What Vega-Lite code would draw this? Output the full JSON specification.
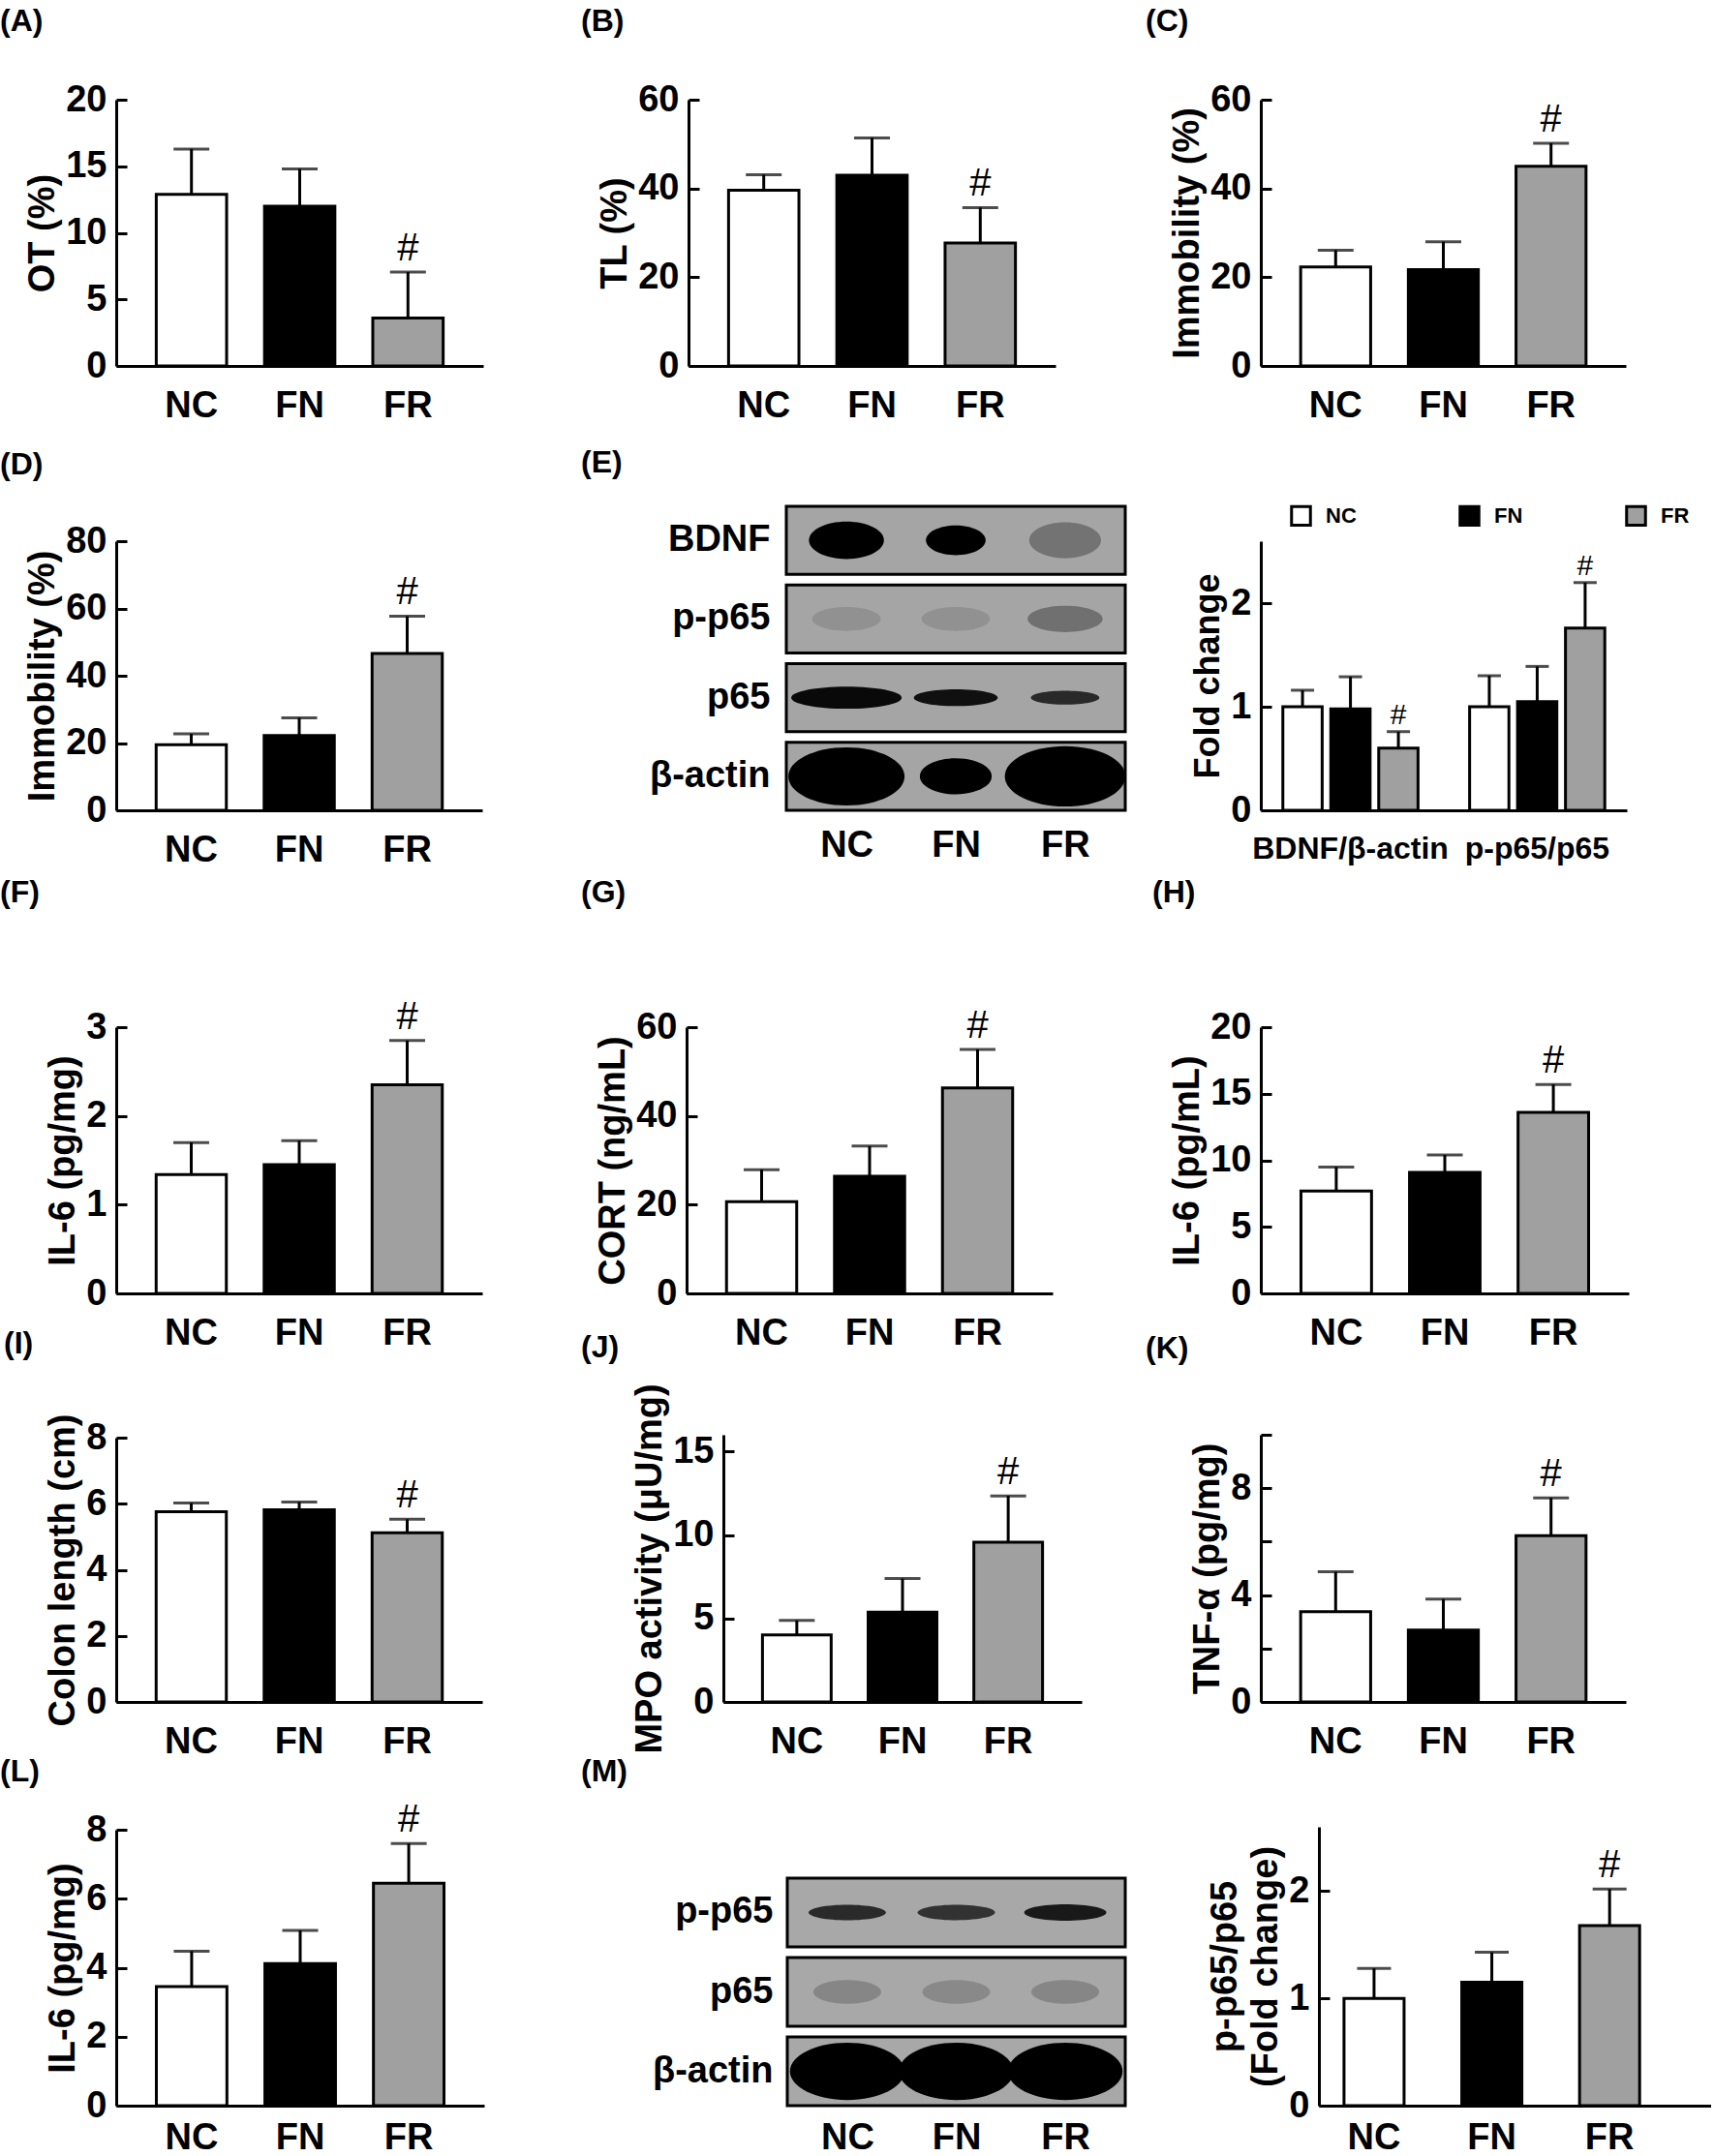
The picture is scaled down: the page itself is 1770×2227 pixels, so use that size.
{
  "$schema": "https://vega.github.io/schema/vega-lite/v6.json",
  "background": "white",
  "padding": {"top": 6, "left": 0, "right": 0, "bottom": 0},
  "columns": 3,
  "align": "each",
  "bounds": "flush",
  "spacing": {"row": 129, "column": 185},
  "resolve": {"scale": {"fill": "independent", "shape": "independent", "size": "independent", "opacity": "independent"}},
  "config": {
    "view": {"stroke": null},
    "font": "Liberation Sans",
    "axis": {"labelFont": "Liberation Sans", "labelFontWeight": "bold", "labelFontSize": 38, "labelColor": "black", "titleFont": "Liberation Sans", "titleFontWeight": "bold", "titleFontSize": 38, "titleColor": "black", "domainColor": "black", "domainWidth": 3, "tickColor": "black", "tickWidth": 3, "grid": false, "labelOverlap": false, "labelFlush": false},
    "axisY": {"tickSize": -11, "labelPadding": 21, "titlePadding": 4},
    "axisX": {"ticks": false, "labelAngle": 0, "labelPadding": 22},
    "title": {"font": "Liberation Sans", "fontWeight": "bold", "fontSize": 32, "color": "black", "anchor": "start", "frame": "group", "baseline": "bottom", "offset": 0},
    "scale": {"bandPaddingInner": 0.35, "bandPaddingOuter": 0.37},
    "bar": {"stroke": "black", "strokeWidth": 3},
    "rule": {"color": "black", "strokeWidth": 3},
    "tick": {"color": "black", "thickness": 3},
    "text": {"font": "Liberation Sans", "color": "black"}
  },
  "concat": [
    {
      "width": 404, "height": 275,
      "title": {"text": "(A)", "dx": -120, "dy": -41},
      "data": {"values": [{"g": "NC", "m": 12.9, "e": 16.3, "s": ""}, {"g": "FN", "m": 12.0, "e": 14.8, "s": ""}, {"g": "FR", "m": 3.6, "e": 7.05, "s": "#"}]},
      "encoding": {"x": {"field": "g", "type": "nominal", "sort": ["NC", "FN", "FR"], "title": null, "scale": {"range": [0, 379]}}},
      "layer": [
        {"mark": "bar", "encoding": {"y": {"field": "m", "type": "quantitative", "scale": {"domain": [0, 20]}, "axis": {"title": "OT (%)", "values": [0, 5, 10, 15, 20], "format": "d"}}, "fill": {"condition": [{"test": "datum.g==='NC'", "value": "white"}, {"test": "datum.g==='FN'", "value": "black"}], "value": "#a0a0a0"}}},
        {"mark": "rule", "encoding": {"y": {"field": "m", "type": "quantitative"}, "y2": {"field": "e"}}},
        {"mark": {"type": "tick", "size": 37}, "encoding": {"y": {"field": "e", "type": "quantitative"}}},
        {"mark": {"type": "text", "fontSize": 40, "baseline": "alphabetic", "dy": -12}, "encoding": {"y": {"field": "e", "type": "quantitative"}, "text": {"field": "s"}}}
      ]
    },
    {
      "width": 408, "height": 275,
      "title": {"text": "(B)", "dx": -109, "dy": -41},
      "data": {"values": [{"g": "NC", "m": 39.6, "e": 43.1, "s": ""}, {"g": "FN", "m": 43.0, "e": 51.4, "s": ""}, {"g": "FR", "m": 27.7, "e": 35.7, "s": "#"}]},
      "encoding": {"x": {"field": "g", "type": "nominal", "sort": ["NC", "FN", "FR"], "title": null, "scale": {"range": [2, 381]}}},
      "layer": [
        {"mark": "bar", "encoding": {"y": {"field": "m", "type": "quantitative", "scale": {"domain": [0, 60]}, "axis": {"title": "TL (%)", "values": [0, 20, 40, 60], "format": "d", "offset": -2}}, "fill": {"condition": [{"test": "datum.g==='NC'", "value": "white"}, {"test": "datum.g==='FN'", "value": "black"}], "value": "#a0a0a0"}}},
        {"mark": "rule", "encoding": {"y": {"field": "m", "type": "quantitative"}, "y2": {"field": "e"}}},
        {"mark": {"type": "tick", "size": 37}, "encoding": {"y": {"field": "e", "type": "quantitative"}}},
        {"mark": {"type": "text", "fontSize": 40, "baseline": "alphabetic", "dy": -12}, "encoding": {"y": {"field": "e", "type": "quantitative"}, "text": {"field": "s"}}}
      ]
    },
    {
      "width": 377, "height": 275,
      "title": {"text": "(C)", "dx": -119, "dy": -41},
      "data": {"values": [{"g": "NC", "m": 22.3, "e": 26.1, "s": ""}, {"g": "FN", "m": 21.7, "e": 28.0, "s": ""}, {"g": "FR", "m": 45.0, "e": 50.2, "s": "#"}]},
      "encoding": {"x": {"field": "g", "type": "nominal", "sort": ["NC", "FN", "FR"], "title": null}},
      "layer": [
        {"mark": "bar", "encoding": {"y": {"field": "m", "type": "quantitative", "scale": {"domain": [0, 60]}, "axis": {"title": "Immobility (%)", "values": [0, 20, 40, 60], "format": "d"}}, "fill": {"condition": [{"test": "datum.g==='NC'", "value": "white"}, {"test": "datum.g==='FN'", "value": "black"}], "value": "#a0a0a0"}}},
        {"mark": "rule", "encoding": {"y": {"field": "m", "type": "quantitative"}, "y2": {"field": "e"}}},
        {"mark": {"type": "tick", "size": 37}, "encoding": {"y": {"field": "e", "type": "quantitative"}}},
        {"mark": {"type": "text", "fontSize": 40, "baseline": "alphabetic", "dy": -12}, "encoding": {"y": {"field": "e", "type": "quantitative"}, "text": {"field": "s"}}}
      ]
    },
    {
      "width": 404, "height": 330,
      "title": {"text": "(D)", "dx": -120, "dy": -6},
      "data": {"values": [{"g": "NC", "m": 19.5, "e": 22.7, "s": ""}, {"g": "FN", "m": 22.2, "e": 27.5, "s": ""}, {"g": "FR", "m": 46.6, "e": 57.7, "s": "#"}]},
      "encoding": {"x": {"field": "g", "type": "nominal", "sort": ["NC", "FN", "FR"], "title": null, "scale": {"range": [0, 378]}}},
      "layer": [
        {"mark": "bar", "encoding": {"y": {"field": "m", "type": "quantitative", "scale": {"domain": [0, 80], "range": [330, 52]}, "axis": {"title": "Immobility (%)", "values": [0, 20, 40, 60, 80], "format": "d"}}, "fill": {"condition": [{"test": "datum.g==='NC'", "value": "white"}, {"test": "datum.g==='FN'", "value": "black"}], "value": "#a0a0a0"}}},
        {"mark": "rule", "encoding": {"y": {"field": "m", "type": "quantitative"}, "y2": {"field": "e"}}},
        {"mark": {"type": "tick", "size": 37}, "encoding": {"y": {"field": "e", "type": "quantitative"}}},
        {"mark": {"type": "text", "fontSize": 40, "baseline": "alphabetic", "dy": -12}, "encoding": {"y": {"field": "e", "type": "quantitative"}, "text": {"field": "s"}}}
      ]
    },
    {
      "width": 408, "height": 330,
      "title": {"text": "(E)", "dx": -109, "dy": -8},
      "resolve": {"scale": {"x": "independent"}, "axis": {"x": "independent"}},
      "layer": [
        {
          "data": {"values": [{"strip": "BDNF"}, {"strip": "p-p65"}, {"strip": "p65"}, {"strip": "β-actin"}]},
          "mark": {"type": "rect", "fill": "#a5a5a5", "stroke": "black", "strokeWidth": 3},
          "encoding": {
            "y": {"field": "strip", "type": "nominal", "sort": ["BDNF", "p-p65", "p65", "β-actin"], "scale": {"range": [16, 330], "paddingInner": 0.136, "paddingOuter": 0}, "axis": {"title": null, "ticks": false, "domain": false, "labelPadding": 17, "offset": -103}},
            "x": {"datum": 0, "type": "quantitative", "scale": {"domain": [0, 1], "range": [103, 453]}, "axis": null},
            "x2": {"datum": 1}
          }
        },
        {
          "data": {"values": [
            {"strip": "BDNF", "lane": "NC", "a": 0.6, "o": 1.0},
            {"strip": "BDNF", "lane": "FN", "a": 0.38, "o": 1.0},
            {"strip": "BDNF", "lane": "FR", "a": 0.55, "o": 0.3},
            {"strip": "p-p65", "lane": "NC", "a": 0.5, "o": 0.12},
            {"strip": "p-p65", "lane": "FN", "a": 0.5, "o": 0.12},
            {"strip": "p-p65", "lane": "FR", "a": 0.6, "o": 0.32},
            {"strip": "p65", "lane": "NC", "a": 1.3, "o": 0.95},
            {"strip": "p65", "lane": "FN", "a": 0.75, "o": 0.9},
            {"strip": "p65", "lane": "FR", "a": 0.5, "o": 0.75},
            {"strip": "β-actin", "lane": "NC", "a": 1.44, "o": 1.0},
            {"strip": "β-actin", "lane": "FN", "a": 0.55, "o": 1.0},
            {"strip": "β-actin", "lane": "FR", "a": 1.55, "o": 1.0}
          ]},
          "mark": {"type": "point", "filled": true, "color": "black", "strokeWidth": 0},
          "encoding": {
            "y": {"field": "strip", "type": "nominal", "sort": ["BDNF", "p-p65", "p65", "β-actin"]},
            "x": {"field": "lane", "type": "nominal", "sort": ["NC", "FN", "FR"], "scale": {"type": "point", "padding": 0.55, "range": [103, 453]}, "axis": {"title": null, "domain": false, "ticks": false, "labelPadding": 17}},
            "shape": {"field": "strip", "type": "nominal", "scale": {"domain": ["BDNF", "p-p65", "p65", "β-actin"], "range": ["M-1,0C-1,-0.276,-0.552,-0.5,0,-0.5C0.552,-0.5,1,-0.276,1,0C1,0.276,0.552,0.5,0,0.5C-0.552,0.5,-1,0.276,-1,0Z", "M-1,0C-1,-0.193,-0.552,-0.35,0,-0.35C0.552,-0.35,1,-0.193,1,0C1,0.193,0.552,0.35,0,0.35C-0.552,0.35,-1,0.193,-1,0Z", "M-1,0C-1,-0.11,-0.552,-0.2,0,-0.2C0.552,-0.2,1,-0.11,1,0C1,0.11,0.552,0.2,0,0.2C-0.552,0.2,-1,0.11,-1,0Z", "M-1,0C-1,-0.276,-0.552,-0.5,0,-0.5C0.552,-0.5,1,-0.276,1,0C1,0.276,0.552,0.5,0,0.5C-0.552,0.5,-1,0.276,-1,0Z"]}, "legend": null},
            "size": {"field": "a", "type": "quantitative", "scale": {"domain": [0, 1], "range": [0, 10000]}, "legend": null},
            "opacity": {"field": "o", "type": "quantitative", "scale": {"domain": [0, 1], "range": [0, 1]}, "legend": null}
          }
        }
      ]
    },
    {
      "width": 378, "height": 330,
      "data": {"values": [
        {"grp": "BDNF/β-actin", "g": "NC", "m": 1.0, "e": 1.16, "s": ""},
        {"grp": "BDNF/β-actin", "g": "FN", "m": 0.98, "e": 1.29, "s": ""},
        {"grp": "BDNF/β-actin", "g": "FR", "m": 0.6, "e": 0.76, "s": "#"},
        {"grp": "p-p65/p65", "g": "NC", "m": 1.0, "e": 1.3, "s": ""},
        {"grp": "p-p65/p65", "g": "FN", "m": 1.05, "e": 1.39, "s": ""},
        {"grp": "p-p65/p65", "g": "FR", "m": 1.76, "e": 2.2, "s": "#"}
      ]},
      "encoding": {
        "x": {"field": "grp", "type": "nominal", "sort": ["BDNF/β-actin", "p-p65/p65"], "title": null, "scale": {"paddingInner": 0.23, "paddingOuter": 0.095}, "axis": {"labelFontSize": 32, "labelLimit": 0, "labelPadding": 24}},
        "xOffset": {"field": "g", "type": "nominal", "sort": ["NC", "FN", "FR"], "scale": {"paddingInner": 0.18, "paddingOuter": 0.09}}
      },
      "layer": [
        {"mark": "bar", "encoding": {
          "y": {"field": "m", "type": "quantitative", "scale": {"domain": [0, 2.5], "range": [330, 52]}, "axis": {"title": "Fold change", "titleFontSize": 36, "values": [0, 0.5, 1, 1.5, 2, 2.5], "format": "d", "labelExpr": "datum.value % 1 === 0 ? datum.label : ''"}},
          "fill": {"field": "g", "type": "nominal", "scale": {"domain": ["NC", "FN", "FR"], "range": ["white", "black", "#a0a0a0"]}, "legend": {"title": null, "orient": "none", "legendX": 30, "legendY": 14, "direction": "horizontal", "symbolType": "square", "symbolSize": 380, "symbolStrokeColor": "black", "symbolStrokeWidth": 3, "labelFontSize": 22, "labelFont": "Liberation Sans", "labelFontWeight": "bold", "labelColor": "black", "columnPadding": 100, "labelOffset": 14}}
        }},
        {"mark": "rule", "encoding": {"y": {"field": "m", "type": "quantitative"}, "y2": {"field": "e"}}},
        {"mark": {"type": "tick", "size": 24}, "encoding": {"y": {"field": "e", "type": "quantitative"}}},
        {"mark": {"type": "text", "fontSize": 30, "baseline": "alphabetic", "dy": -8}, "encoding": {"y": {"field": "e", "type": "quantitative"}, "text": {"field": "s"}}}
      ]
    },
    {
      "width": 404, "height": 370,
      "title": {"text": "(F)", "dx": -120, "dy": -23},
      "data": {"values": [{"g": "NC", "m": 1.34, "e": 1.7, "s": ""}, {"g": "FN", "m": 1.45, "e": 1.72, "s": ""}, {"g": "FR", "m": 2.35, "e": 2.85, "s": "#"}]},
      "encoding": {"x": {"field": "g", "type": "nominal", "sort": ["NC", "FN", "FR"], "title": null, "scale": {"range": [0, 378]}}},
      "layer": [
        {"mark": "bar", "encoding": {"y": {"field": "m", "type": "quantitative", "scale": {"domain": [0, 3], "range": [370, 95]}, "axis": {"title": "IL-6 (pg/mg)", "values": [0, 1, 2, 3], "format": "d"}}, "fill": {"condition": [{"test": "datum.g==='NC'", "value": "white"}, {"test": "datum.g==='FN'", "value": "black"}], "value": "#a0a0a0"}}},
        {"mark": "rule", "encoding": {"y": {"field": "m", "type": "quantitative"}, "y2": {"field": "e"}}},
        {"mark": {"type": "tick", "size": 37}, "encoding": {"y": {"field": "e", "type": "quantitative"}}},
        {"mark": {"type": "text", "fontSize": 40, "baseline": "alphabetic", "dy": -12}, "encoding": {"y": {"field": "e", "type": "quantitative"}, "text": {"field": "s"}}}
      ]
    },
    {
      "width": 408, "height": 370,
      "title": {"text": "(G)", "dx": -109, "dy": -23},
      "data": {"values": [{"g": "NC", "m": 20.7, "e": 27.9, "s": ""}, {"g": "FN", "m": 26.4, "e": 33.2, "s": ""}, {"g": "FR", "m": 46.3, "e": 55.0, "s": "#"}]},
      "encoding": {"x": {"field": "g", "type": "nominal", "sort": ["NC", "FN", "FR"], "title": null, "scale": {"range": [0, 378]}}},
      "layer": [
        {"mark": "bar", "encoding": {"y": {"field": "m", "type": "quantitative", "scale": {"domain": [0, 60], "range": [370, 95]}, "axis": {"title": "CORT (ng/mL)", "values": [0, 20, 40, 60], "format": "d"}}, "fill": {"condition": [{"test": "datum.g==='NC'", "value": "white"}, {"test": "datum.g==='FN'", "value": "black"}], "value": "#a0a0a0"}}},
        {"mark": "rule", "encoding": {"y": {"field": "m", "type": "quantitative"}, "y2": {"field": "e"}}},
        {"mark": {"type": "tick", "size": 37}, "encoding": {"y": {"field": "e", "type": "quantitative"}}},
        {"mark": {"type": "text", "fontSize": 40, "baseline": "alphabetic", "dy": -12}, "encoding": {"y": {"field": "e", "type": "quantitative"}, "text": {"field": "s"}}}
      ]
    },
    {
      "width": 380, "height": 370,
      "title": {"text": "(H)", "dx": -112, "dy": -23},
      "data": {"values": [{"g": "NC", "m": 7.7, "e": 9.5, "s": ""}, {"g": "FN", "m": 9.1, "e": 10.4, "s": ""}, {"g": "FR", "m": 13.6, "e": 15.7, "s": "#"}]},
      "encoding": {"x": {"field": "g", "type": "nominal", "sort": ["NC", "FN", "FR"], "title": null}},
      "layer": [
        {"mark": "bar", "encoding": {"y": {"field": "m", "type": "quantitative", "scale": {"domain": [0, 20], "range": [370, 95]}, "axis": {"title": "IL-6 (pg/mL)", "values": [0, 5, 10, 15, 20], "format": "d"}}, "fill": {"condition": [{"test": "datum.g==='NC'", "value": "white"}, {"test": "datum.g==='FN'", "value": "black"}], "value": "#a0a0a0"}}},
        {"mark": "rule", "encoding": {"y": {"field": "m", "type": "quantitative"}, "y2": {"field": "e"}}},
        {"mark": {"type": "tick", "size": 37}, "encoding": {"y": {"field": "e", "type": "quantitative"}}},
        {"mark": {"type": "text", "fontSize": 40, "baseline": "alphabetic", "dy": -12}, "encoding": {"y": {"field": "e", "type": "quantitative"}, "text": {"field": "s"}}}
      ]
    },
    {
      "width": 404, "height": 293,
      "title": {"text": "(I)", "dx": -116, "dy": -51},
      "data": {"values": [{"g": "NC", "m": 5.76, "e": 6.02, "s": ""}, {"g": "FN", "m": 5.82, "e": 6.05, "s": ""}, {"g": "FR", "m": 5.12, "e": 5.53, "s": "#"}]},
      "encoding": {"x": {"field": "g", "type": "nominal", "sort": ["NC", "FN", "FR"], "title": null, "scale": {"range": [0, 378]}}},
      "layer": [
        {"mark": "bar", "encoding": {"y": {"field": "m", "type": "quantitative", "scale": {"domain": [0, 8], "range": [293, 20]}, "axis": {"title": "Colon length (cm)", "values": [0, 2, 4, 6, 8], "format": "d"}}, "fill": {"condition": [{"test": "datum.g==='NC'", "value": "white"}, {"test": "datum.g==='FN'", "value": "black"}], "value": "#a0a0a0"}}},
        {"mark": "rule", "encoding": {"y": {"field": "m", "type": "quantitative"}, "y2": {"field": "e"}}},
        {"mark": {"type": "tick", "size": 37}, "encoding": {"y": {"field": "e", "type": "quantitative"}}},
        {"mark": {"type": "text", "fontSize": 40, "baseline": "alphabetic", "dy": -12}, "encoding": {"y": {"field": "e", "type": "quantitative"}, "text": {"field": "s"}}}
      ]
    },
    {
      "width": 408, "height": 293,
      "title": {"text": "(J)", "dx": -109, "dy": -16},
      "data": {"values": [{"g": "NC", "m": 4.02, "e": 4.89, "s": ""}, {"g": "FN", "m": 5.38, "e": 7.39, "s": ""}, {"g": "FR", "m": 9.57, "e": 12.34, "s": "#"}]},
      "encoding": {"x": {"field": "g", "type": "nominal", "sort": ["NC", "FN", "FR"], "title": null, "scale": {"range": [38, 408]}}},
      "layer": [
        {"mark": "bar", "encoding": {"y": {"field": "m", "type": "quantitative", "scale": {"domain": [0, 15], "range": [293, 17]}, "axis": {"title": "MPO activity (μU/mg)", "values": [0, 5, 10, 15], "format": "d", "offset": -38}}, "fill": {"condition": [{"test": "datum.g==='NC'", "value": "white"}, {"test": "datum.g==='FN'", "value": "black"}], "value": "#a0a0a0"}}},
        {"mark": "rule", "encoding": {"y": {"field": "m", "type": "quantitative"}, "y2": {"field": "e"}}},
        {"mark": {"type": "tick", "size": 37}, "encoding": {"y": {"field": "e", "type": "quantitative"}}},
        {"mark": {"type": "text", "fontSize": 40, "baseline": "alphabetic", "dy": -12}, "encoding": {"y": {"field": "e", "type": "quantitative"}, "text": {"field": "s"}}}
      ]
    },
    {
      "width": 377, "height": 293,
      "title": {"text": "(K)", "dx": -119, "dy": -49},
      "data": {"values": [{"g": "NC", "m": 3.38, "e": 4.87, "s": ""}, {"g": "FN", "m": 2.69, "e": 3.85, "s": ""}, {"g": "FR", "m": 6.22, "e": 7.64, "s": "#"}]},
      "encoding": {"x": {"field": "g", "type": "nominal", "sort": ["NC", "FN", "FR"], "title": null}},
      "layer": [
        {"mark": "bar", "encoding": {"y": {"field": "m", "type": "quantitative", "scale": {"domain": [0, 10], "range": [293, 17]}, "axis": {"title": "TNF-α (pg/mg)", "values": [0, 2, 4, 6, 8, 10], "format": "d", "labelExpr": "datum.value % 4 === 0 ? datum.label : ''"}}, "fill": {"condition": [{"test": "datum.g==='NC'", "value": "white"}, {"test": "datum.g==='FN'", "value": "black"}], "value": "#a0a0a0"}}},
        {"mark": "rule", "encoding": {"y": {"field": "m", "type": "quantitative"}, "y2": {"field": "e"}}},
        {"mark": {"type": "tick", "size": 37}, "encoding": {"y": {"field": "e", "type": "quantitative"}}},
        {"mark": {"type": "text", "fontSize": 40, "baseline": "alphabetic", "dy": -12}, "encoding": {"y": {"field": "e", "type": "quantitative"}, "text": {"field": "s"}}}
      ]
    },
    {
      "width": 404, "height": 288,
      "title": {"text": "(L)", "dx": -120, "dy": -9},
      "data": {"values": [{"g": "NC", "m": 3.45, "e": 4.48, "s": ""}, {"g": "FN", "m": 4.12, "e": 5.08, "s": ""}, {"g": "FR", "m": 6.45, "e": 7.6, "s": "#"}]},
      "encoding": {"x": {"field": "g", "type": "nominal", "sort": ["NC", "FN", "FR"], "title": null, "scale": {"range": [0, 380]}, "axis": {"labelPadding": 14}}},
      "layer": [
        {"mark": "bar", "encoding": {"y": {"field": "m", "type": "quantitative", "scale": {"domain": [0, 8], "range": [288, 3]}, "axis": {"title": "IL-6 (pg/mg)", "values": [0, 2, 4, 6, 8], "format": "d"}}, "fill": {"condition": [{"test": "datum.g==='NC'", "value": "white"}, {"test": "datum.g==='FN'", "value": "black"}], "value": "#a0a0a0"}}},
        {"mark": "rule", "encoding": {"y": {"field": "m", "type": "quantitative"}, "y2": {"field": "e"}}},
        {"mark": {"type": "tick", "size": 37}, "encoding": {"y": {"field": "e", "type": "quantitative"}}},
        {"mark": {"type": "text", "fontSize": 40, "baseline": "alphabetic", "dy": -12}, "encoding": {"y": {"field": "e", "type": "quantitative"}, "text": {"field": "s"}}}
      ]
    },
    {
      "width": 408, "height": 288,
      "title": {"text": "(M)", "dx": -109, "dy": -36},
      "resolve": {"scale": {"x": "independent"}, "axis": {"x": "independent"}},
      "layer": [
        {
          "data": {"values": [{"strip": "p-p65"}, {"strip": "p65"}, {"strip": "β-actin"}]},
          "mark": {"type": "rect", "fill": "#a8a8a8", "stroke": "black", "strokeWidth": 3},
          "encoding": {
            "y": {"field": "strip", "type": "nominal", "sort": ["p-p65", "p65", "β-actin"], "scale": {"range": [53, 288], "paddingInner": 0.136, "paddingOuter": 0}, "axis": {"title": null, "ticks": false, "domain": false, "labelPadding": 15, "offset": -104}},
            "x": {"datum": 0, "type": "quantitative", "scale": {"domain": [0, 1], "range": [104, 453]}, "axis": null},
            "x2": {"datum": 1}
          }
        },
        {
          "data": {"values": [
            {"strip": "p-p65", "lane": "NC", "a": 0.64, "o": 0.75},
            {"strip": "p-p65", "lane": "FN", "a": 0.64, "o": 0.7},
            {"strip": "p-p65", "lane": "FR", "a": 0.72, "o": 0.85},
            {"strip": "p65", "lane": "NC", "a": 0.49, "o": 0.2},
            {"strip": "p65", "lane": "FN", "a": 0.49, "o": 0.18},
            {"strip": "p65", "lane": "FR", "a": 0.49, "o": 0.2},
            {"strip": "β-actin", "lane": "NC", "a": 1.4, "o": 1.0},
            {"strip": "β-actin", "lane": "FN", "a": 1.4, "o": 1.0},
            {"strip": "β-actin", "lane": "FR", "a": 1.4, "o": 1.0}
          ]},
          "mark": {"type": "point", "filled": true, "color": "black", "strokeWidth": 0},
          "encoding": {
            "y": {"field": "strip", "type": "nominal", "sort": ["p-p65", "p65", "β-actin"]},
            "x": {"field": "lane", "type": "nominal", "sort": ["NC", "FN", "FR"], "scale": {"type": "point", "padding": 0.55, "range": [104, 453]}, "axis": {"title": null, "domain": false, "ticks": false, "labelPadding": 14}},
            "shape": {"field": "strip", "type": "nominal", "scale": {"domain": ["p-p65", "p65", "β-actin"], "range": ["M-1,0C-1,-0.11,-0.552,-0.2,0,-0.2C0.552,-0.2,1,-0.11,1,0C1,0.11,0.552,0.2,0,0.2C-0.552,0.2,-1,0.11,-1,0Z", "M-1,0C-1,-0.193,-0.552,-0.35,0,-0.35C0.552,-0.35,1,-0.193,1,0C1,0.193,0.552,0.35,0,0.35C-0.552,0.35,-1,0.193,-1,0Z", "M-1,0C-1,-0.276,-0.552,-0.5,0,-0.5C0.552,-0.5,1,-0.276,1,0C1,0.276,0.552,0.5,0,0.5C-0.552,0.5,-1,0.276,-1,0Z"]}, "legend": null},
            "size": {"field": "a", "type": "quantitative", "scale": {"domain": [0, 1], "range": [0, 10000]}, "legend": null},
            "opacity": {"field": "o", "type": "quantitative", "scale": {"domain": [0, 1], "range": [0, 1]}, "legend": null}
          }
        }
      ]
    },
    {
      "width": 465, "height": 288,
      "data": {"values": [{"g": "NC", "m": 1.0, "e": 1.28, "s": ""}, {"g": "FN", "m": 1.15, "e": 1.43, "s": ""}, {"g": "FR", "m": 1.68, "e": 2.02, "s": "#"}]},
      "encoding": {"x": {"field": "g", "type": "nominal", "sort": ["NC", "FN", "FR"], "title": null, "scale": {"paddingInner": 0.49, "paddingOuter": 0.41, "align": 0.26, "range": [60, 465]}, "axis": {"labelPadding": 14}}},
      "layer": [
        {"mark": "bar", "encoding": {"y": {"field": "m", "type": "quantitative", "scale": {"domain": [0, 2.5], "range": [288, 0]}, "axis": {"title": ["p-p65/p65", "(Fold change)"], "titleLineHeight": 42, "offset": -60, "values": [0, 0.5, 1, 1.5, 2, 2.5], "format": "d", "labelExpr": "datum.value % 1 === 0 ? datum.label : ''"}}, "fill": {"condition": [{"test": "datum.g==='NC'", "value": "white"}, {"test": "datum.g==='FN'", "value": "black"}], "value": "#a0a0a0"}}},
        {"mark": "rule", "encoding": {"y": {"field": "m", "type": "quantitative"}, "y2": {"field": "e"}}},
        {"mark": {"type": "tick", "size": 35}, "encoding": {"y": {"field": "e", "type": "quantitative"}}},
        {"mark": {"type": "text", "fontSize": 40, "baseline": "alphabetic", "dy": -12}, "encoding": {"y": {"field": "e", "type": "quantitative"}, "text": {"field": "s"}}}
      ]
    }
  ]
}
